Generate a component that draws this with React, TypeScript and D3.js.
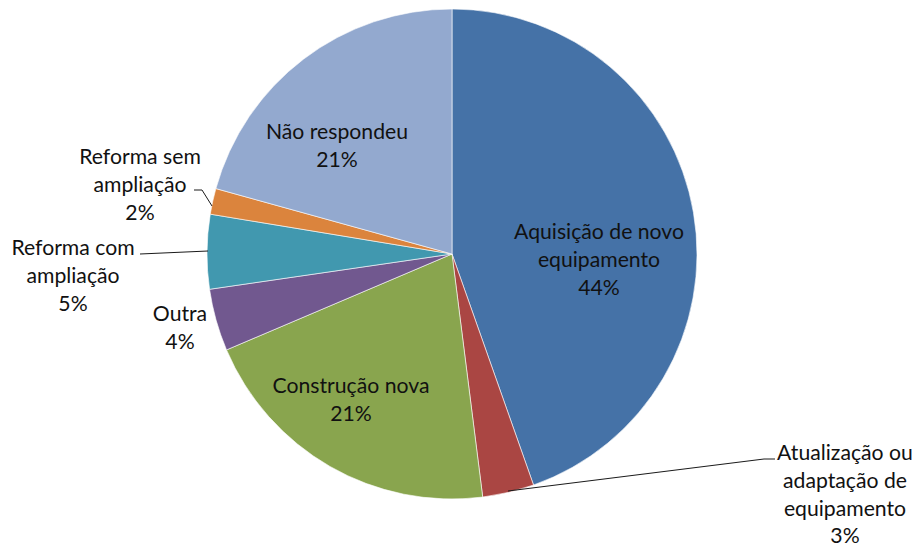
import React from "react";
import * as d3 from "d3";

const categories = [
  "Aquisição de novo equipamento",
  "Atualização ou adaptação de equipamento",
  "Construção nova",
  "Outra",
  "Reforma com ampliação",
  "Reforma sem ampliação",
  "Não respondeu",
];
const values = [44.6, 3.4, 20.6, 4.1, 4.9, 1.7, 20.7];
const percentLabels = ["44%", "3%", "21%", "4%", "5%", "2%", "21%"];
const colors = ["#4572A7", "#AA4643", "#89A54E", "#71588F", "#4198AF", "#DB843D", "#93A9CF"];
// label text lines (category split as in the original)
const labelLines = [
  ["Aquisição de novo", "equipamento"],
  ["Atualização ou", "adaptação de", "equipamento"],
  ["Construção nova"],
  ["Outra"],
  ["Reforma com", "ampliação"],
  ["Reforma sem", "ampliação"],
  ["Não respondeu"],
];

const W = 912;
const H = 548;
const cx = 452;
const cy = 254;
const R = 245;
const LH = 27.8;
const FONT = "Lato, 'Open Sans', sans-serif";
const FS = 21.2;

// label centres (first-line centre) and leader lines
const labelPos: [number, number][] = [
  [599, 231],
  [845, 452],
  [351, 385],
  [180, 313],
  [73, 247],
  [140, 156],
  [337, 131],
];
const leaders: ([number, number][] | null)[] = [
  null,
  [[508, 491], [764, 459], [775, 459]],
  null,
  null,
  [[140, 254], [208, 251]],
  [[194, 190], [202, 190], [212, 206]],
  null,
];

export default function App() {
  const pie = d3.pie<number>().sort(null).value((d) => d)(values);
  const arc = d3.arc<d3.PieArcDatum<number>>().innerRadius(0).outerRadius(R);
  const line = d3.line();
  return (
    <svg width={W} height={H} style={{ position: "absolute", left: 0, top: 0, background: "#fff" }}>
      <g transform={`translate(${cx},${cy})`}>
        {pie.map((p, i) => (
          <path key={i} d={arc(p) || ""} fill={colors[i]} stroke="#ffffff" strokeWidth={0.6} />
        ))}
      </g>
      {leaders.map((l, i) =>
        l ? <path key={"l" + i} d={line(l) || ""} fill="none" stroke="#1a1a1a" strokeWidth={1} /> : null
      )}
      {labelPos.map(([x, y], i) => {
        const lines = [...labelLines[i], percentLabels[i]];
        return (
          <text key={"t" + i} x={x} y={y} textAnchor="middle" fontFamily={FONT} fontSize={FS} fill="#111">
            {lines.map((s, j) => (
              <tspan key={j} x={x} y={y + j * LH} dominantBaseline="central">
                {s}
              </tspan>
            ))}
          </text>
        );
      })}
    </svg>
  );
}
